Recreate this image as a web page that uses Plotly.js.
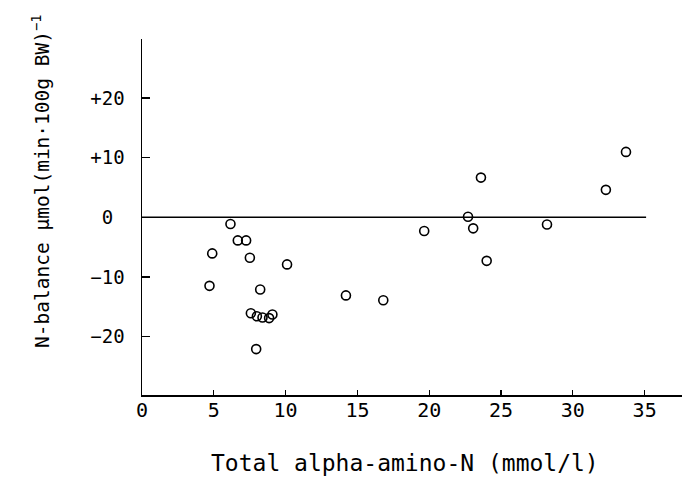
<!DOCTYPE html>
<html>
<head>
<meta charset="utf-8">
<script src="https://cdn.plot.ly/plotly-3.0.1.min.js"></script>
<style>html,body{margin:0;padding:0;background:#fff;}#chart{width:686px;height:481px;}</style>
</head>
<body>
<div id="chart"></div>
<script>
// Total alpha-amino-N (mmol/l)
const aminoN = [4.7, 4.89, 6.16, 6.67, 7.25, 7.51, 7.58, 7.95, 8.0, 8.23, 8.39, 8.85, 9.08, 10.1,
                14.2, 16.8, 19.65, 22.7, 23.06, 23.6, 24.0, 28.2, 32.3, 33.7];
// N-balance µmol (min·100g BW)^-1
const nBalance = [-11.5, -6.05, -1.13, -3.87, -3.87, -6.78, -16.1, -22.1, -16.6, -12.1, -16.8, -16.9, -16.3, -7.9,
                  -13.1, -13.9, -2.3, 0.1, -1.85, 6.66, -7.3, -1.2, 4.6, 10.97];
// zero reference line
const refLineX = [0, 35.1];
const refLineY = [0, 0];

const xTickVals = [0, 5, 10, 15, 20, 25, 30, 35];
const xTickText = ["0", "5", "10", "15", "20", "25", "30", "35"];
const yTickVals = [-20, -10, 0, 10, 20];
const yTickText = ["\u221220", "\u221210", "0\u00a0", "+10", "+20"];

const FONT = "DejaVu Sans Mono, Liberation Mono, monospace";

const data = [
  {x: refLineX, y: refLineY, mode: "lines", type: "scatter",
   line: {color: "#000", width: 1.5}, hoverinfo: "skip", showlegend: false},
  {x: aminoN, y: nBalance, mode: "markers", type: "scatter",
   marker: {symbol: "circle-open", size: 9, color: "#000", line: {color: "#000", width: 1.6}},
   showlegend: false}
];

const layout = {
  width: 686, height: 481,
  margin: {l: 142, r: 4, t: 39, b: 86, pad: 0},
  paper_bgcolor: "#fff", plot_bgcolor: "#fff",
  font: {family: FONT, color: "#000", size: 19},
  showlegend: false,
  xaxis: {
    range: [0, 37.6], showgrid: false, zeroline: false,
    showline: true, linecolor: "#000", linewidth: 1.5,
    ticks: "inside", ticklen: 5, tickwidth: 1.3, tickcolor: "#000",
    tickvals: xTickVals, ticktext: xTickText,
    tickfont: {family: FONT, size: 20, color: "#000"},
    ticklabelstandoff: -4
  },
  yaxis: {
    range: [-29.8, 29.9], showgrid: false, zeroline: false,
    showline: true, linecolor: "#000", linewidth: 1.5,
    ticks: "inside", ticklen: 8, tickwidth: 1.3, tickcolor: "#000",
    tickvals: yTickVals, ticktext: yTickText,
    tickfont: {family: FONT, size: 19, color: "#000"},
    ticklabelstandoff: 12
  },
  annotations: [
    {text: "Total alpha-amino-N (mmol/l)", xref: "paper", yref: "paper",
     x: 0.487, y: -0.19, xanchor: "center", yanchor: "middle", showarrow: false,
     font: {family: FONT, size: 23, color: "#000"}},
    {text: "N-balance \u03bcmol(min\u00b7100g BW)<sup>\u22121</sup>", xref: "paper", yref: "paper",
     x: -0.186, y: 0.60, xanchor: "center", yanchor: "middle", showarrow: false, textangle: -90,
     font: {family: FONT, size: 19.5, color: "#000"}}
  ]
};

Plotly.newPlot("chart", data, layout, {displayModeBar: false, staticPlot: true});
</script>
</body>
</html>
